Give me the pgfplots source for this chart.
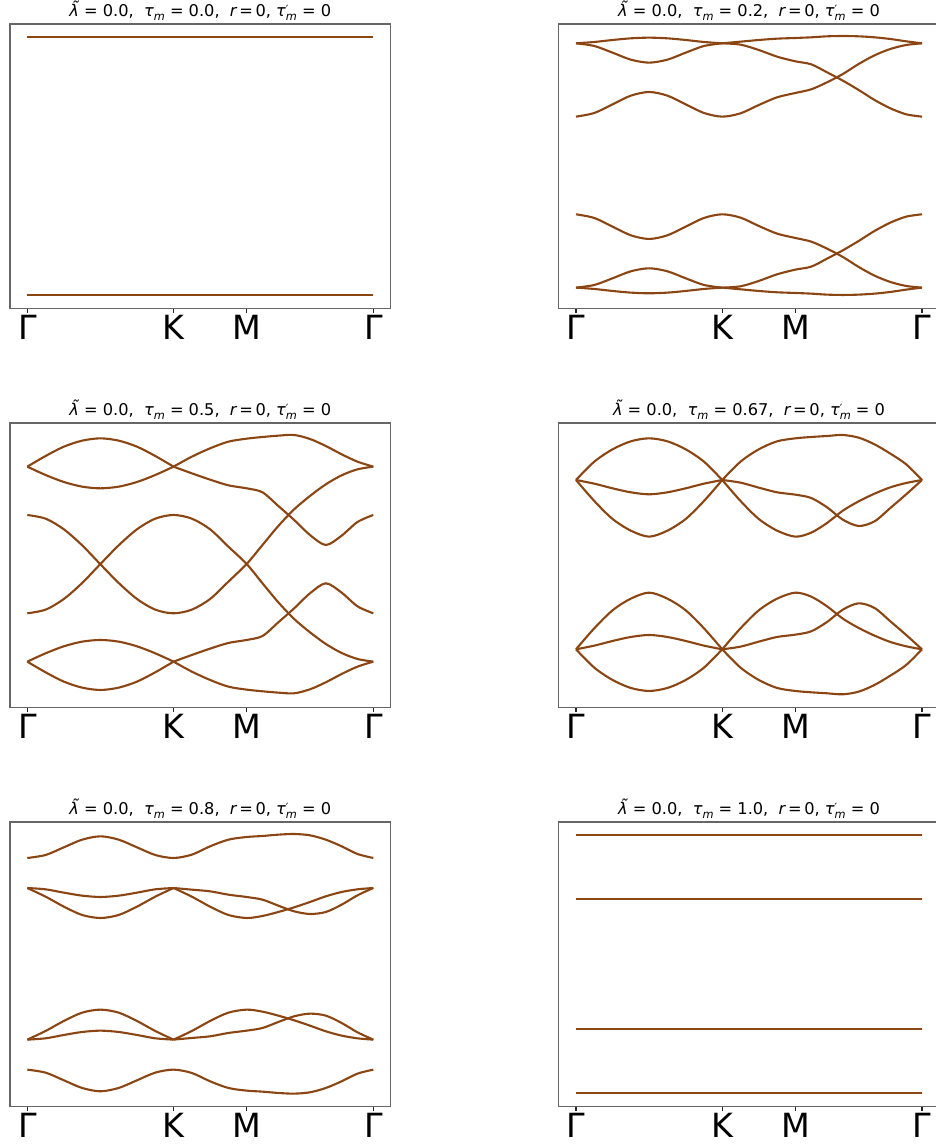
\documentclass[border=0pt]{standalone}
\usepackage{pgfplots}
\pgfplotsset{compat=1.18}
\usepackage{pgfplotstable}
\usepackage{fontspec}
\setmainfont{DejaVu Sans}
\definecolor{bandcolor}{RGB}{139,69,19}

% subscript / prime helpers for the panel titles
\newcommand{\sub}[1]{\raisebox{-0.25em}{\fontsize{11.3}{13}\selectfont\itshape #1}}
\newcommand{\paneltitle}[1]{{\itshape λ̃} = 0.0,\ \ {\itshape τ}\sub{m} = #1,\ \ {\itshape r}\,=\,0, {\itshape τ}\rlap{\raisebox{3pt}{\fontsize{11.3}{13}\selectfont ′}}\sub{m} = 0}

% band energies along Gamma-K-M-Gamma (arbitrary units)
\pgfplotstableread{
k      A   B   C   D   E   F
0      795 795 575 282 62  62
0.125  799 787 586 271 70  58
0.25   805 767 612 245 90  52
0.375  810 746 638 219 111 47
0.5    812 737 649 208 120 45
0.625  810 746 638 219 111 47
0.75   805 767 612 245 90  52
0.875  799 787 586 271 70  58
1      795 795 575 282 62  62
1.125  800 791 585 272 66  57
1.25   805 775 610 247 82  52
1.375  809 755 633 224 102 48
1.5    811 741 646 211 116 46
1.6083 813 732 657 200 125 44
1.7165 816 708 678 179 149 41
1.8248 817 683 703 154 174 40
1.933  816 655 733 124 202 41
2.0413 813 625 759 98  232 44
2.1495 808 600 778 79  257 49
2.2578 801 582 790 67  275 56
2.366  795 575 795 62  282 62
}\tauB

\pgfplotstableread{
k      A   B   C   D   E   F
0      722 722 577 282 137 137
0.125  754 697 566 293 162 105
0.25   782 676 534 325 183 77
0.375  800 662 486 373 197 59
0.5    807 657 429 430 202 52
0.625  800 662 373 486 197 59
0.75   782 676 325 534 183 77
0.875  754 697 293 566 162 105
1      722 722 282 577 137 137
1.125  752 702 293 566 157 107
1.25   777 683 325 534 176 82
1.375  797 666 377 482 193 62
1.5    806 657 430 430 202 53
1.6083 811 645 487 372 214 48
1.7165 815 604 544 315 255 44
1.8248 817 562 594 265 297 42
1.933  805 517 634 225 342 54
2.0413 784 487 669 190 372 75
2.1495 759 515 696 163 344 100
2.2578 737 556 714 145 303 122
2.366  722 577 722 137 282 137
}\tauC

\pgfplotstableread{
k      A   B   C   D   E   F
0      682 682 682 174 174 174
0.125  737 671 619 237 185 119
0.25   774 657 565 291 199 82
0.375  798 645 530 326 211 58
0.5    807 639 512 344 217 49
0.625  798 645 530 326 211 58
0.75   774 657 565 291 199 82
0.875  737 671 619 237 185 119
1      682 682 682 174 174 174
1.125  737 674 619 237 182 119
1.25   774 659 565 291 197 82
1.375  798 645 530 326 211 58
1.5    807 638 512 344 218 49
1.6083 811 628 524 332 228 45
1.7165 814 600 553 303 256 42
1.8248 817 563 590 266 293 39
1.933  809 544 618 238 312 47
2.0413 789 558 641 215 298 67
2.1495 761 598 660 196 258 95
2.2578 729 639 673 183 217 127
2.366  682 682 682 174 174 174
}\tauD

\pgfplotstableread{
k      A   B   C   D   E   F
0      745 655 655 200 200 110
0.125  754 651 629 226 204 101
0.25   777 641 599 256 214 78
0.375  800 632 574 281 223 55
0.5    810 628 565 290 227 45
0.625  800 632 574 281 223 55
0.75   777 641 599 256 214 78
0.875  754 651 629 226 204 101
1      745 655 655 200 200 110
1.125  755 650 629 226 205 100
1.25   780 645 599 256 210 75
1.375  800 635 574 281 220 55
1.5    808 628 565 290 227 47
1.6083 811 620 571 284 235 44
1.7165 815 602 583 272 253 40
1.8248 817 585 597 258 270 38
1.933  813 577 613 242 278 42
2.0413 800 583 630 225 272 55
2.1495 780 605 643 212 250 75
2.2578 757 633 651 204 222 98
2.366  745 655 655 200 200 110
}\tauE

\pgfplotsset{
  bandaxis/.style={
    scale only axis, width=380.6pt, height=284.3pt,
    anchor=north west,
    xmin=-0.1183, xmax=2.4843, ymin=0, ymax=853,
    xtick={0,1,1.5,2.366}, xticklabels={Γ,K,M,Γ},
    ytick=\empty, xtick pos=left, tick align=outside,
    major tick length=4.9pt,
    axis line style={draw=black!60, line width=1.1pt},
    xtick style={draw=black!85, line width=1.1pt},
    xticklabel style={font=\fontsize{33.3}{40}\selectfont, inner sep=0pt, anchor=north, yshift=-2pt},
    every axis title shift=0pt,
    title style={font=\fontsize{16.2}{19}\selectfont, at={(0.5,1)}, anchor=base, yshift=7.3pt, inner sep=0pt},
  },
  band/.style={draw=bandcolor, line width=2.1pt, smooth, no markers},
}

% bands with a kink at K are drawn in two pieces
\newcommand{\kinked}[2]{%
  \addplot[band, restrict x to domain=0:1] table[x=k, y=#2] {#1};
  \addplot[band, restrict x to domain=1:2.4] table[x=k, y=#2] {#1};}
\newcommand{\whole}[2]{%
  \addplot[band] table[x=k, y=#2] {#1};}

\begin{document}
\begin{tikzpicture}
\useasboundingbox (0,0) rectangle (936pt,1144pt);

% tau_m = 0.0
\begin{axis}[bandaxis, at={(10pt,1120pt)}, title={\paneltitle{0.0}}]
  \addplot[band] coordinates {(0,815) (2.366,815)};
  \addplot[band] coordinates {(0,39) (2.366,39)};
\end{axis}

% tau_m = 0.2
\begin{axis}[bandaxis, at={(558.7pt,1120pt)}, title={\paneltitle{0.2}}]
  \kinked{\tauB}{A}\kinked{\tauB}{B}\whole{\tauB}{C}
  \whole{\tauB}{D}\kinked{\tauB}{E}\kinked{\tauB}{F}
\end{axis}

% tau_m = 0.5
\begin{axis}[bandaxis, at={(10pt,721pt)}, title={\paneltitle{0.5}}]
  \kinked{\tauC}{A}\kinked{\tauC}{B}\whole{\tauC}{C}
  \whole{\tauC}{D}\kinked{\tauC}{E}\kinked{\tauC}{F}
\end{axis}

% tau_m = 0.67
\begin{axis}[bandaxis, at={(558.7pt,721pt)}, title={\paneltitle{0.67}}]
  \kinked{\tauD}{A}\kinked{\tauD}{B}\kinked{\tauD}{C}
  \kinked{\tauD}{D}\kinked{\tauD}{E}\kinked{\tauD}{F}
\end{axis}

% tau_m = 0.8
\begin{axis}[bandaxis, at={(10pt,322pt)}, title={\paneltitle{0.8}}]
  \whole{\tauE}{A}\kinked{\tauE}{B}\kinked{\tauE}{C}
  \kinked{\tauE}{D}\kinked{\tauE}{E}\whole{\tauE}{F}
\end{axis}

% tau_m = 1.0
\begin{axis}[bandaxis, at={(558.7pt,322pt)}, title={\paneltitle{1.0}}]
  \addplot[band] coordinates {(0,815) (2.366,815)};
  \addplot[band] coordinates {(0,622) (2.366,622)};
  \addplot[band] coordinates {(0,233) (2.366,233)};
  \addplot[band] coordinates {(0,40) (2.366,40)};
\end{axis}
\end{tikzpicture}
\end{document}
